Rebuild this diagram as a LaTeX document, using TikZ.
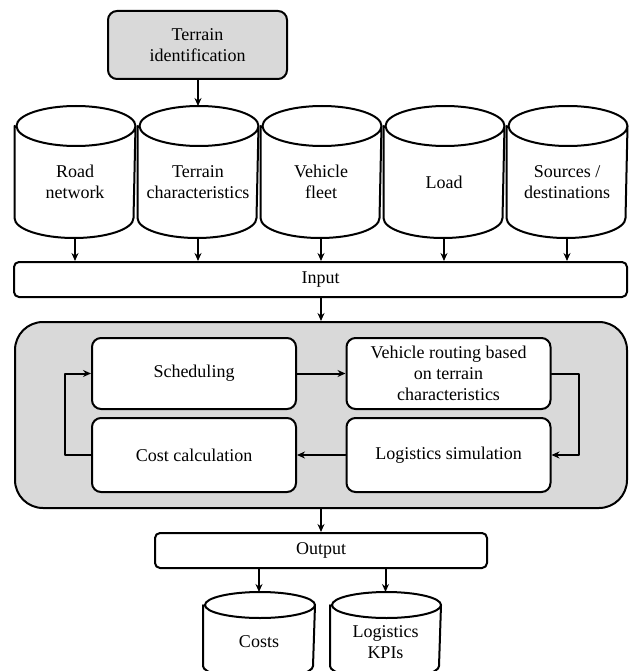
\documentclass[tikz,border=0pt]{standalone}
\usepackage{fontspec}
\setmainfont{Liberation Serif}
\usetikzlibrary{arrows.meta}
\begin{document}
\begin{tikzpicture}[line cap=round,line join=round,x=1pt,y=-1pt,>={Stealth[length=8pt,width=7pt]},
	font=\fontsize{18}{21}\selectfont,line width=2pt,
	box/.style={draw,rounded corners=9pt,align=center,inner sep=0pt},
	db/.style={align=center,inner sep=0pt,minimum width=119pt,minimum height=110pt}]
			\path[use as bounding box] (0,0) rectangle (630,671);
			\clip (0,0) rectangle (630,671);
			% top
			\node[box,fill=gray!30,minimum width=179pt,minimum height=68pt] (terrain) at (197.5,45) {Terrain\\identification};
			\node[db] (road) at (75,182) {Road\\network};
			\node[db] (char) at (198,182) {Terrain\\characteristics};
			\node[db] (fleet) at (321,182) {Vehicle\\fleet};
			\node[db] (load) at (444,182) {Load};
			\node[db] (src) at (567,182) {Sources /\\destinations};
			\foreach \c in {road,char,fleet,load,src}
				\draw (\c.north west) -- ([yshift=20pt]\c.south west) arc[start angle=180,end angle=360,x radius=59.5pt,y radius=20pt]
					-- (\c.north east) arc[start angle=0,end angle=360,x radius=59.5pt,y radius=20pt];
			\node[box,rounded corners=5pt,minimum width=613pt,minimum height=35pt] (input) at (320.5,279.5) {Input};
			\draw[->] (char.north |- terrain.south) -- ([yshift=20pt]char.north);
			\foreach \c in {road,char,fleet,load,src}
				\draw[->] (\c.south) -- (\c.south |- input.north);
			% model
			\node[box,fill=gray!30,rounded corners=28pt,minimum width=612pt,minimum height=186pt] (model) at (321,415) {};
			\node[box,fill=white,minimum width=204pt,minimum height=71pt] (sched) at (194,373.5) {Scheduling};
			\node[box,fill=white,minimum width=204pt,minimum height=71pt] (route) at (448.5,373.5) {Vehicle routing based\\on terrain\\characteristics};
			\node[box,fill=white,minimum width=204pt,minimum height=74pt] (cost) at (194,455) {Cost calculation};
			\node[box,fill=white,minimum width=204pt,minimum height=74pt] (sim) at (448.5,455) {Logistics simulation};
			\draw[->] (input.south -| model.north) -- (model.north);
			\draw[->] (sched) -- (route);
			\draw[->] (route.east) -- ++(27,0) |- (sim.east);
			\draw[->] (sim) -- (cost);
			\draw[->] (cost.west) -- ++(-26,0) |- (sched.west);
			% output
			\node[box,rounded corners=5pt,minimum width=332pt,minimum height=35pt] (output) at (321,550.5) {Output};
			\draw[->] (model.south) -- (output.north -| model.south);
			\node[db,minimum width=110pt,minimum height=72pt] (costs) at (259,642) {Costs};
			\node[db,minimum width=109pt,minimum height=72pt] (kpi) at (385.5,642) {Logistics\\KPIs};
			\draw (costs.north west) -- ([yshift=13pt]costs.south west) arc[start angle=180,end angle=360,x radius=55pt,y radius=13pt]
				-- (costs.north east) arc[start angle=0,end angle=360,x radius=55pt,y radius=13pt];
			\draw (kpi.north west) -- ([yshift=13pt]kpi.south west) arc[start angle=180,end angle=360,x radius=54.5pt,y radius=13pt]
				-- (kpi.north east) arc[start angle=0,end angle=360,x radius=54.5pt,y radius=13pt];
			\draw[->] (costs.north |- output.south) -- ([yshift=13pt]costs.north);
			\draw[->] (kpi.north |- output.south) -- ([yshift=13pt]kpi.north);
	\end{tikzpicture}
\end{document}
